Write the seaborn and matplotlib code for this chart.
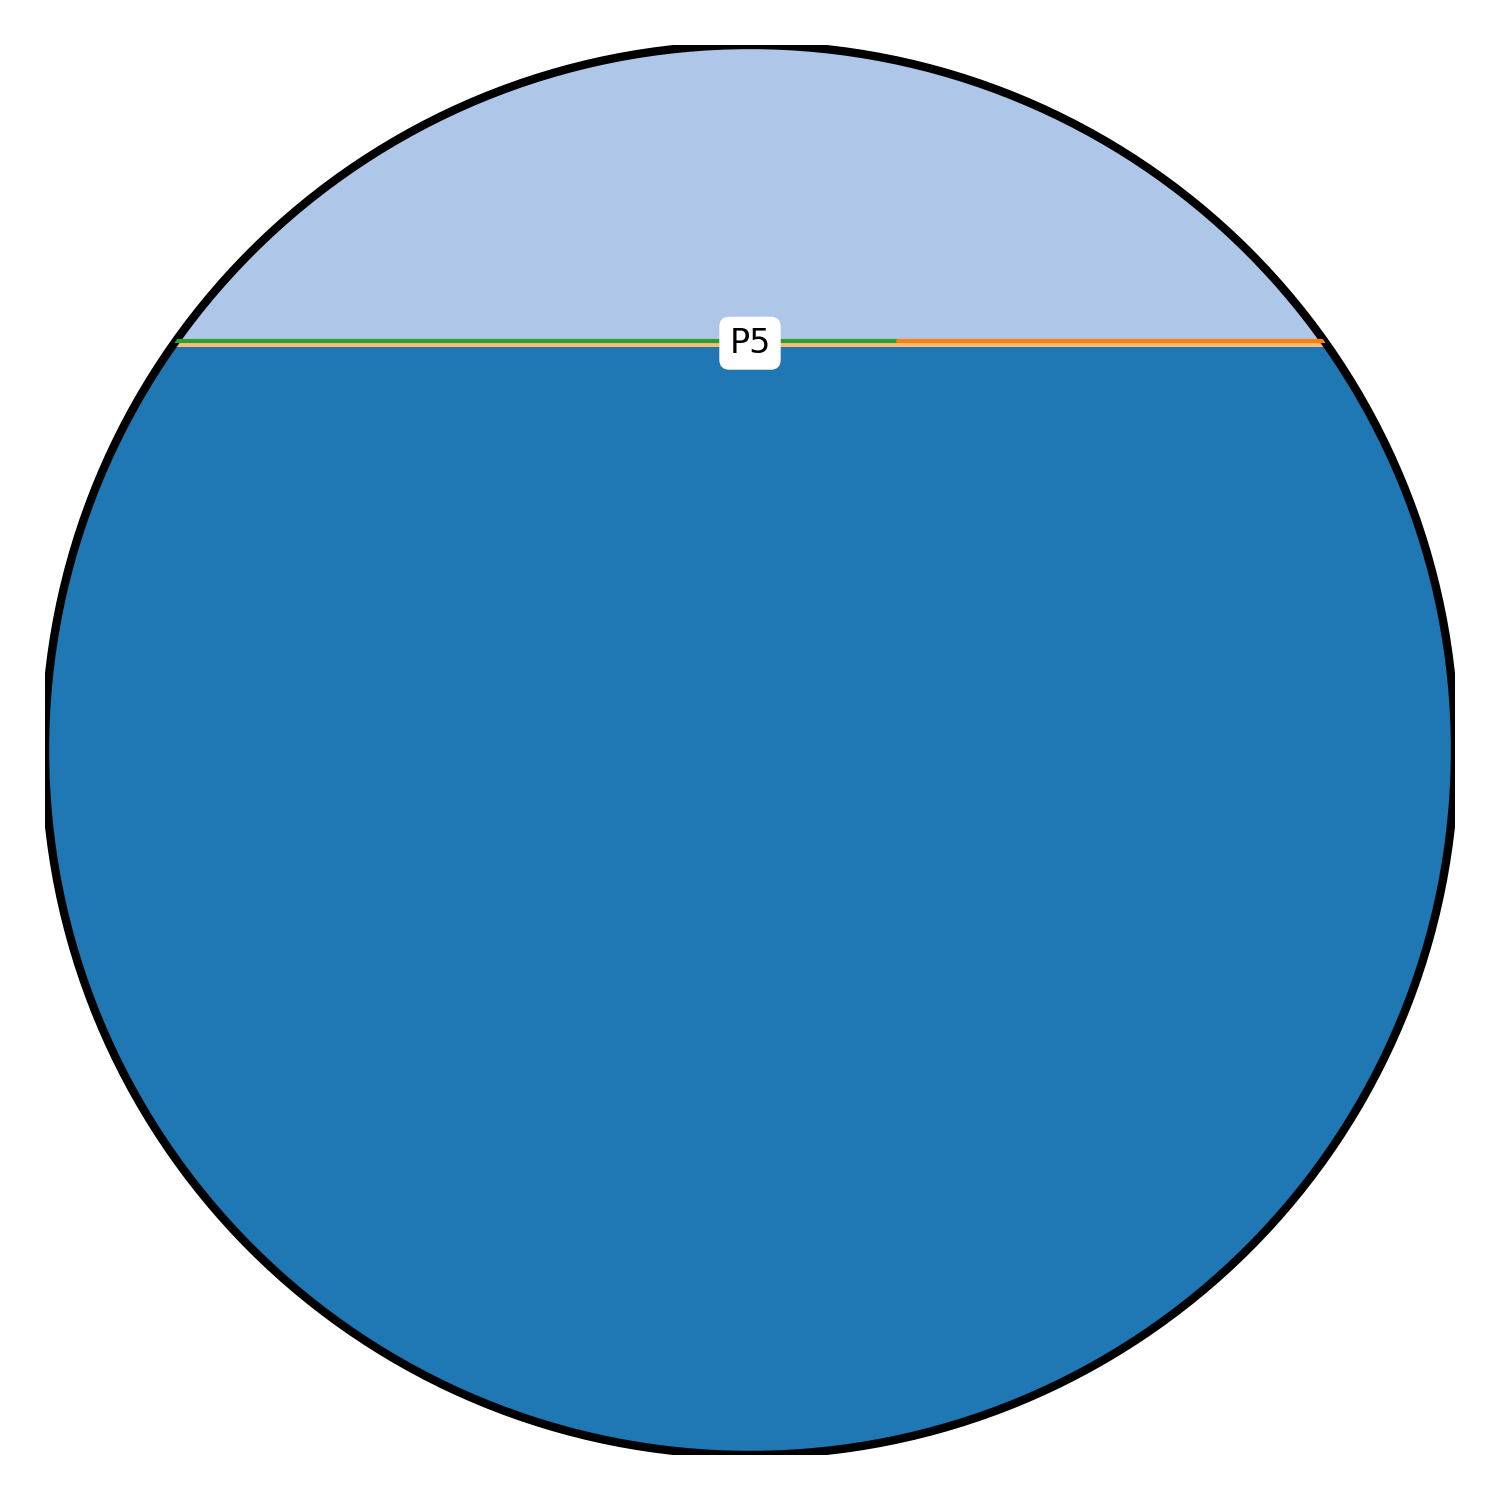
import numpy as np
import matplotlib
matplotlib.use("Agg")
import matplotlib.pyplot as plt
from matplotlib.patches import Circle
import seaborn as sns

sns.set_theme(style="white")
plt.rcParams['font.family'] = ['DejaVu Sans']

# fill levels inside the circle (radius 1), bottom to top
fill_bottoms = [-1.0, 0.572, 0.580]
fill_tops = [0.572, 0.580, 1.0]
fill_idx = [0, 3, 1]          # tab20 colours: blue, light orange, light blue

# marker line at the level, split into two segments
line_x = [[-1.0, 0.21], [0.21, 1.0]]
line_y = [[0.580, 0.580], [0.580, 0.580]]
line_idx = [4, 2]             # green, orange

label_text = "P5"
label_y = 0.577

pal = sns.color_palette("tab20")

fig = plt.figure(figsize=(7.5, 7.5), dpi=200)
ax = fig.add_axes([0.03, 0.03, 0.94, 0.94])
ax.set_xlim(-1, 1)
ax.set_ylim(-1, 1)
ax.set_aspect("equal")
ax.axis("off")

clip = Circle((0, 0), 1, transform=ax.transData, facecolor="none", edgecolor="none")

xs = np.array([-1.0, 1.0])
for lo, hi, ci in zip(fill_bottoms, fill_tops, fill_idx):
    poly = ax.fill_between(xs, lo, hi, color=pal[ci], linewidth=0)
    poly.set_clip_path(clip)

for lx, ly, ci in zip(line_x, line_y, line_idx):
    sns.lineplot(x=lx, y=ly, color=pal[ci], linewidth=1.5, ax=ax)
for ln in ax.lines:
    ln.set_clip_path(clip)

ring = Circle((0, 0), 1, facecolor="none", edgecolor="black", linewidth=3)
ax.add_patch(ring)
ring.set_clip_on(True)

ax.text(0, label_y, label_text, ha="center", va="center", fontsize=12,
        color="black",
        bbox=dict(boxstyle="round,pad=0.3", facecolor="white", edgecolor="none"))

fig.savefig("out.png", dpi=200)
